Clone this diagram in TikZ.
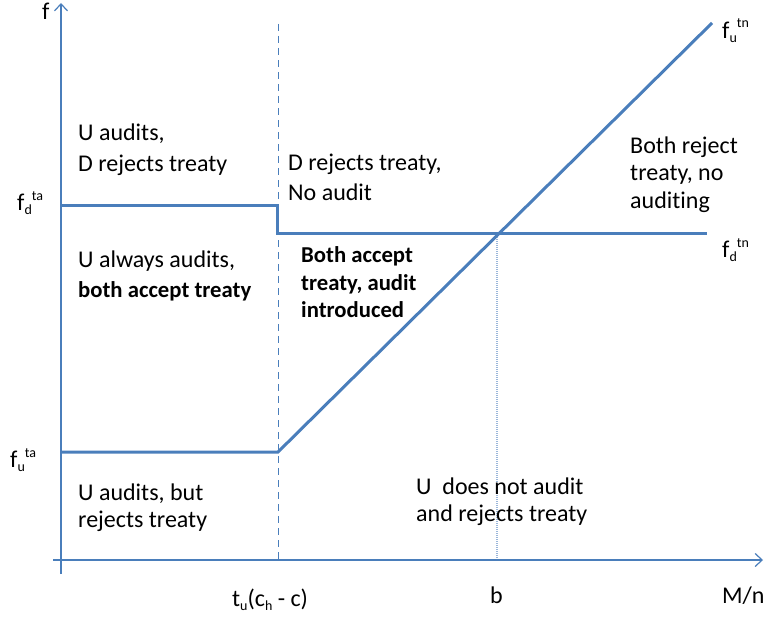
\documentclass[tikz,border=0pt]{standalone}
\usepackage{fontspec}
\setmainfont{Carlito}[Ligatures=NoCommon]
\usetikzlibrary{arrows.meta}
\definecolor{lb}{HTML}{4A7EBB}
\definecolor{lbl}{HTML}{9AB6DA}
\newcommand\mysub[1]{\raisebox{-4pt}{\fontsize{14}{14}\selectfont #1}}
\newcommand\mysup[1]{\raisebox{10pt}{\fontsize{14}{14}\selectfont #1}}
\begin{document}
\begin{tikzpicture}[x=1pt,y=-1pt,
  axis/.style={lb, line width=1.2pt, -{Straight Barb[length=7pt,width=13pt]}},
  curve/.style={lb, line width=3pt, line join=miter},
  vdash/.style={lb, line width=1pt, dash pattern=on 7pt off 5pt},
  vdot/.style={lbl, line width=1.5pt, dash pattern=on 1pt off 1pt},
  lab/.style={inner sep=0pt, anchor=base west, font=\fontsize{24}{28}\selectfont},
  blab/.style={lab, font=\fontsize{22.7}{27}\selectfont\bfseries}]
\useasboundingbox (0,0) rectangle (767,618);
% coordinates
\coordinate (ybot) at (61,574);
\coordinate (ytop) at (61,3);
\coordinate (xleft) at (53,560);
\coordinate (xright) at (763,560);
\coordinate (dtop) at (278,24);
\coordinate (dbot) at (278,560);
\coordinate (bt) at (497,233);
\coordinate (bb) at (497,560);
\coordinate (da0) at (61,205);
\coordinate (da1) at (277,205);
\coordinate (da2) at (277,233);
\coordinate (dn) at (707,233);
\coordinate (ua0) at (61,452);
\coordinate (ua1) at (278,452);
\coordinate (un) at (712,23);
% axes and guide lines
\draw[vdash] (dtop) -- (dbot);
\draw[vdot] (bt) -- (bb);
\draw[axis] (ybot) -- (ytop);
\draw[axis] (xleft) -- (xright);
% curves
\draw[curve] (da0) -- (da1) -- (da2) -- (dn);
\draw[curve] (ua0) -- (ua1) -- (un);
% axis labels
\node[lab] (f) at (42,20) {f};
\node[lab] (fdta) at (17,210) {f\mysub{d}\mysup{ta}};
\node[lab] (futa) at (10,467) {f\mysub{u}\mysup{ta}};
\node[lab] (futn) at (722,38) {f\mysub{u}\mysup{tn}};
\node[lab] (fdtn) at (722,257) {f\mysub{d}\mysup{tn}};
\node[lab] (tu) at (232,606) {t\mysub{u}(c\mysub{h} - c)};
\node[lab] (b) at (490,603) {b};
\node[lab] (mn) at (722,603) {M/n};
% region labels
\node[lab] (r1a) at (78,140) {U audits,};
\node[lab] (r1b) at (78,171) {D rejects treaty};
\node[lab] (r2a) at (288,170) {D rejects treaty,};
\node[lab] (r2b) at (288,200) {No audit};
\node[lab] (r3a) at (630,153) {Both reject};
\node[lab] (r3b) at (630,180) {treaty, no};
\node[lab] (r3c) at (630,208) {auditing};
\node[lab] (r4a) at (78,267) {U always audits,};
\node[blab] (r4b) at (78,297) {both accept treaty};
\node[blab] (r5a) at (301,262) {Both accept};
\node[blab] (r5b) at (301,290) {treaty, audit};
\node[blab] (r5c) at (301,317) {introduced};
\node[lab] (r6a) at (78,500) {U audits, but};
\node[lab] (r6b) at (78,527) {rejects treaty};
\node[lab] (r7a) at (416,494) {U\ \ does not audit};
\node[lab] (r7b) at (416,521) {and rejects treaty};
\end{tikzpicture}
\end{document}
